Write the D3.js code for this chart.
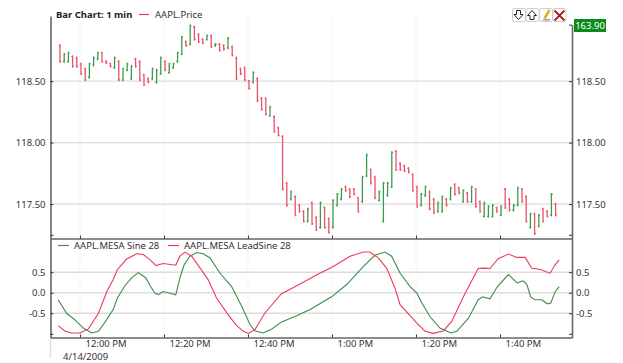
<!DOCTYPE html>
<html>
<head>
<meta charset="utf-8">
<script src="https://cdn.jsdelivr.net/npm/d3@7"></script>
<style>
    html, body { margin: 0; padding: 0; background: #fff; }
    svg { display: block; }
    text { font-family: "Noto Sans", sans-serif; font-size: 9.5px; fill: #333; }
    .axis path.domain { stroke: #666; stroke-width: 1.6; }
    .axis line { stroke: #333; stroke-width: 1; }
    .grid-h { stroke: #dcdcdc; stroke-width: 1.4; }
    .grid-v { stroke: #eee; stroke-width: 1; stroke-dasharray: 2 1; }
</style>
</head>
<body>
<div id="chart"></div>
<script>
// one bar per minute, first bar at 11:55
const firstBarMinute = -5;
const opens = [118.79,118.66,118.66,118.70,118.69,118.64,118.60,118.53,118.63,118.68,118.73,118.66,118.64,118.61,118.66,118.51,118.59,118.52,118.68,118.66,118.55,118.52,118.52,118.49,118.56,118.66,118.57,118.61,118.66,118.72,118.82,118.80,118.94,118.88,118.84,118.84,118.87,118.79,118.80,118.79,118.77,118.78,118.69,118.60,118.61,118.50,118.49,118.52,118.36,118.36,118.22,118.21,118.12,118.05,117.67,117.54,117.56,117.49,117.44,117.36,117.51,117.39,117.31,117.47,117.38,117.31,117.49,117.54,117.64,117.62,117.62,117.55,117.52,117.73,117.78,117.72,117.53,117.36,117.57,117.64,117.93,117.83,117.81,117.79,117.74,117.64,117.49,117.57,117.60,117.54,117.44,117.44,117.54,117.54,117.66,117.63,117.52,117.59,117.52,117.62,117.52,117.40,117.40,117.40,117.47,117.41,117.62,117.54,117.45,117.49,117.62,117.56,117.31,117.42,117.32,117.46,117.44,117.41,117.50];
const highs = [118.80,118.73,118.74,118.71,118.70,118.65,118.61,118.65,118.70,118.74,118.74,118.67,118.65,118.70,118.67,118.61,118.65,118.63,118.69,118.67,118.56,118.53,118.61,118.60,118.70,118.67,118.65,118.65,118.74,118.87,118.83,118.96,118.95,118.89,118.85,118.88,118.88,118.81,118.81,118.80,118.86,118.79,118.70,118.61,118.62,118.51,118.58,118.53,118.37,118.37,118.30,118.22,118.13,118.06,117.68,117.61,117.57,117.50,117.45,117.47,117.52,117.40,117.52,117.48,117.39,117.54,117.59,117.63,117.65,117.63,117.63,117.56,117.73,117.91,117.79,117.73,117.61,117.68,117.68,117.93,117.94,117.84,117.82,117.80,117.75,117.65,117.59,117.65,117.61,117.55,117.52,117.57,117.55,117.64,117.67,117.64,117.62,117.60,117.65,117.63,117.53,117.52,117.49,117.50,117.48,117.49,117.63,117.55,117.50,117.64,117.63,117.57,117.43,117.43,117.42,117.47,117.45,117.59,117.51];
const lows = [118.65,118.65,118.65,118.61,118.61,118.55,118.50,118.52,118.62,118.67,118.65,118.64,118.61,118.60,118.50,118.50,118.58,118.51,118.61,118.50,118.46,118.48,118.51,118.48,118.55,118.58,118.56,118.60,118.65,118.71,118.78,118.79,118.83,118.81,118.80,118.83,118.77,118.78,118.74,118.75,118.76,118.70,118.51,118.55,118.50,118.43,118.48,118.33,118.26,118.22,118.21,118.08,118.05,117.61,117.48,117.53,117.40,117.43,117.35,117.35,117.33,117.28,117.30,117.30,117.26,117.30,117.48,117.53,117.60,117.55,117.57,117.43,117.51,117.72,117.66,117.54,117.52,117.35,117.56,117.63,117.77,117.77,117.76,117.75,117.60,117.47,117.48,117.56,117.45,117.42,117.43,117.43,117.48,117.53,117.57,117.58,117.51,117.51,117.51,117.47,117.43,117.39,117.39,117.39,117.43,117.40,117.46,117.44,117.44,117.48,117.51,117.35,117.30,117.25,117.31,117.35,117.39,117.40,117.40];
const closes = [118.66,118.72,118.73,118.62,118.62,118.56,118.51,118.64,118.69,118.73,118.66,118.65,118.62,118.69,118.51,118.60,118.64,118.62,118.62,118.51,118.47,118.49,118.60,118.59,118.69,118.59,118.64,118.64,118.73,118.86,118.79,118.95,118.84,118.82,118.81,118.87,118.78,118.80,118.75,118.76,118.85,118.71,118.52,118.56,118.51,118.44,118.57,118.34,118.27,118.23,118.29,118.09,118.06,117.62,117.49,117.60,117.41,117.44,117.36,117.46,117.34,117.29,117.51,117.31,117.27,117.53,117.58,117.62,117.61,117.56,117.58,117.44,117.72,117.90,117.67,117.55,117.60,117.67,117.67,117.92,117.78,117.78,117.77,117.76,117.61,117.48,117.58,117.64,117.46,117.43,117.51,117.56,117.49,117.63,117.58,117.59,117.61,117.52,117.64,117.48,117.44,117.51,117.48,117.49,117.44,117.48,117.47,117.45,117.49,117.63,117.52,117.36,117.42,117.26,117.41,117.36,117.40,117.58,117.41];

// indicator lines, minutes after 12:00
const sineMinutes = [-5.2,-3.2,-1.2,0.8,2.8,4.4,6.0,7.9,8.9,10.7,12.3,13.9,15.7,16.8,17.9,18.8,19.8,21.0,22.8,23.8,24.8,26.2,27.8,29.4,31.0,33.3,36.1,38.5,40.5,41.7,43.6,45.6,48.0,51.6,54.8,59.9,63.5,67.5,70.2,72.6,74.2,76.2,78.6,80.2,81.4,83.3,85.7,88.3,89.7,92.5,94.8,95.9,97.6,99.4,102.0,104.1,105.5,106.4,107.3,108.3,109.9,111.3,112.1,113.1,114.1];
const sineValues = [-0.17,-0.50,-0.66,-0.86,-0.98,-0.94,-0.71,-0.41,-0.13,0.17,0.36,0.49,0.36,0.15,-0.02,-0.04,0.03,0.00,-0.05,0.36,0.68,0.89,0.98,0.95,0.84,0.48,0.15,-0.33,-0.78,-0.93,-0.98,-0.89,-0.71,-0.56,-0.41,-0.10,0.20,0.64,0.91,0.99,0.89,0.48,0.15,-0.01,-0.25,-0.58,-0.86,-0.98,-0.94,-0.62,-0.17,-0.10,-0.15,0.15,0.44,0.24,0.29,0.20,-0.11,-0.17,-0.17,-0.27,-0.25,0.02,0.15];
const leadMinutes = [-5.2,-3.6,-2.0,0,2.0,4.4,6.4,7.9,8.9,11.1,13.5,15.1,16.7,18.1,19.8,22.8,23.8,25.0,26.6,28.6,30.5,32.5,35.3,37.3,38.9,40.1,41.7,44.0,47.9,52.4,56.4,60.3,64.3,67.5,69.0,71.0,73.0,75.0,76.2,78.6,80.2,82.1,84.1,86.5,88.5,91.3,94.8,96.4,97.6,99.6,102.0,104.0,106.0,107.5,109.9,111.9,113.1,114.1];
const leadValues = [-0.80,-0.93,-0.98,-0.98,-0.88,-0.50,0.03,0.32,0.56,0.82,0.95,0.93,0.80,0.66,0.71,0.67,0.89,0.99,0.89,0.60,0.32,-0.13,-0.54,-0.80,-0.94,-0.99,-0.89,-0.50,-0.03,0.21,0.44,0.64,0.89,0.99,0.99,0.85,0.60,0.11,-0.29,-0.56,-0.74,-0.93,-0.99,-0.93,-0.70,-0.09,0.59,0.60,0.59,0.83,0.94,0.86,0.86,0.60,0.56,0.47,0.68,0.80];

const timeTicks = [0, 20, 40, 60, 80, 100];
const timeLabels = ["12:00 PM", "12:20 PM", "12:40 PM", "1:00 PM", "1:20 PM", "1:40 PM"];
const priceTicks = [117.25, 117.5, 118, 118.5];
const priceTickLabels = ["", "117.50", "118.00", "118.50"];
const sineTicks = [-1, -0.5, 0, 0.5];
const sineTickLabels = ["", "-0.5", "0.0", "0.5"];
const lastPriceLabel = "163.90";
const lastPriceMark = 118.96;

const upColor = "#3d9a4c";
const downColor = "#ea5068";
const lineGreen = "#3c8c4a";
const lineRed = "#ea3c58";

const width = 623, height = 363;
const left = 50.5, right = 572;
const mainTop = 16, mainBottom = 238.5, lowerBottom = 337.5;
const barShift = 1;

const svg = d3.select("#chart").append("svg").attr("width", width).attr("height", height);

const x = d3.scaleLinear().domain([-7.02, 117.14]).range([left, right]);
const priceY = d3.scaleLinear().domain([117.22, 119.03]).range([mainBottom, mainTop]);
const sineY = d3.scaleLinear().domain([-1.09, 1.32]).range([lowerBottom, mainBottom]);

// Grid
svg.append("g").selectAll("line").data(timeTicks).join("line")
    .attr("class", "grid-v")
    .attr("x1", d => x(d)).attr("x2", d => x(d))
    .attr("y1", mainTop).attr("y2", lowerBottom);
svg.append("g").selectAll("line").data(priceTicks.slice(1)).join("line")
    .attr("class", "grid-h")
    .attr("x1", left).attr("x2", right)
    .attr("y1", d => priceY(d)).attr("y2", d => priceY(d));
svg.append("g").selectAll("line").data(sineTicks.slice(1)).join("line")
    .attr("class", "grid-h")
    .attr("x1", left).attr("x2", right)
    .attr("y1", d => sineY(d)).attr("y2", d => sineY(d));
svg.append("line").attr("x1", left).attr("x2", left).attr("y1", lowerBottom).attr("y2", 358)
    .attr("stroke", "#ddd").attr("stroke-width", 1.4);

// Price bars
let bars = svg.append("g").selectAll("g").data(opens).join("g")
    .attr("stroke", (d, i) => closes[i] >= opens[i] ? upColor : downColor)
    .attr("stroke-width", 1.3);
let barX = i => x(firstBarMinute + i) + barShift;
bars.append("line")
    .attr("x1", (d, i) => barX(i)).attr("x2", (d, i) => barX(i))
    .attr("y1", (d, i) => priceY(highs[i])).attr("y2", (d, i) => priceY(lows[i]));
bars.append("line")
    .attr("x1", (d, i) => barX(i) - 1.2).attr("x2", (d, i) => barX(i))
    .attr("y1", (d, i) => priceY(opens[i])).attr("y2", (d, i) => priceY(opens[i]));
bars.append("line")
    .attr("x1", (d, i) => barX(i)).attr("x2", (d, i) => barX(i) + 1.2)
    .attr("y1", (d, i) => priceY(closes[i])).attr("y2", (d, i) => priceY(closes[i]));

// Indicator lines
let line = d3.line().x(d => x(d[0])).y(d => sineY(d[1]));
svg.append("path").datum(d3.zip(sineMinutes, sineValues))
    .attr("d", line).attr("fill", "none").attr("stroke", lineGreen).attr("stroke-width", 1.1);
svg.append("path").datum(d3.zip(leadMinutes, leadValues))
    .attr("d", line).attr("fill", "none").attr("stroke", lineRed).attr("stroke-width", 1.1);

// Axes
function priceFormat(d) { return priceTickLabels[priceTicks.indexOf(d)]; }
function sineFormat(d) { return sineTickLabels[sineTicks.indexOf(d)]; }
function timeFormat(d) { return timeLabels[timeTicks.indexOf(d)]; }

svg.append("g").attr("class", "axis").attr("transform", "translate(" + left + ",0)")
    .call(d3.axisLeft(priceY).tickValues(priceTicks).tickFormat(priceFormat).tickSizeInner(-3).tickSizeOuter(0).tickPadding(5));
svg.append("g").attr("class", "axis").attr("transform", "translate(" + left + ",0)")
    .call(d3.axisLeft(sineY).tickValues(sineTicks).tickFormat(sineFormat).tickSizeInner(-3).tickSizeOuter(0).tickPadding(5));

let rightPrice = d3.scaleLinear().domain([priceY.domain()[0], lastPriceMark]).range([mainBottom, priceY(lastPriceMark)]);
svg.append("g").attr("class", "axis").attr("transform", "translate(" + right + ",0)")
    .call(d3.axisRight(rightPrice).tickValues(priceTicks.concat([lastPriceMark])).tickFormat(d => d === lastPriceMark ? "" : priceFormat(d)).tickSizeInner(-3).tickSizeOuter(0).tickPadding(4));
svg.append("g").attr("class", "axis").attr("transform", "translate(" + right + ",0)")
    .call(d3.axisRight(sineY).tickValues(sineTicks).tickFormat(sineFormat).tickSizeInner(-3).tickSizeOuter(0).tickPadding(4));

// Time axis with ticks on both panel borders
let timeAxis = svg.append("g").attr("class", "axis").attr("transform", "translate(0," + lowerBottom + ")")
    .call(d3.axisBottom(x).tickValues(timeTicks).tickFormat(timeFormat).tickSizeInner(-3).tickSizeOuter(0).tickPadding(3));
timeAxis.selectAll("text").attr("text-anchor", "start").attr("dx", 5);
svg.append("g").attr("class", "axis").attr("transform", "translate(0," + mainBottom + ")")
    .call(d3.axisBottom(x).tickValues(timeTicks).tickFormat("").tickSizeInner(-3).tickSizeOuter(0));
svg.selectAll(".axis path.domain").attr("stroke", "#555");

svg.append("text").attr("x", 63).attr("y", 359.5).text("4/14/2009");

// Titles and legends
svg.append("text").attr("x", 56).attr("y", 18).attr("font-weight", "bold").style("fill", "#222").text("Bar Chart: 1 min");
svg.append("line").attr("x1", 139).attr("x2", 149).attr("y1", 14.5).attr("y2", 14.5).attr("stroke", lineRed).attr("stroke-width", 1.2);
svg.append("text").attr("x", 155).attr("y", 18).text("AAPL.Price");
svg.append("line").attr("x1", 58).attr("x2", 69).attr("y1", 245.5).attr("y2", 245.5).attr("stroke", lineGreen).attr("stroke-width", 1.2);
svg.append("text").attr("x", 74).attr("y", 249).text("AAPL.MESA Sine 28");
svg.append("line").attr("x1", 168).attr("x2", 179).attr("y1", 245.5).attr("y2", 245.5).attr("stroke", lineRed).attr("stroke-width", 1.2);
svg.append("text").attr("x", 184).attr("y", 249).text("AAPL.MESA LeadSine 28");

// Last price box
svg.append("rect").attr("x", 574).attr("y", 19).attr("width", 32).attr("height", 13).attr("fill", "#0b8a1a");
svg.append("text").attr("x", 590).attr("y", 29).attr("text-anchor", "middle").style("fill", "#fff").text(lastPriceLabel);

// Toolbar buttons
let buttons = svg.append("g").selectAll("rect").data([512, 525.5, 539, 552.5]).join("rect")
    .attr("x", d => d + 0.5).attr("y", 8.5).attr("width", 13).attr("height", 13).attr("rx", 2)
    .attr("fill", "#fff").attr("stroke", "#ccc");
svg.append("path").attr("d", "M516.5 10.5h4v4h2.5l-4.5 5-4.5-5h2.5z").attr("fill", "#fff").attr("stroke", "#222");
svg.append("path").attr("d", "M530 19.5v-4h-2.5l4.5-5 4.5 5h-2.5v4z").attr("fill", "#fff").attr("stroke", "#222");
svg.append("path").attr("d", "M549.5 10l-5 8.5").attr("stroke", "#d9b21e").attr("stroke-width", 2.6).attr("fill", "none");
svg.append("path").attr("d", "M543 19.8h7").attr("stroke", "#5577aa").attr("stroke-width", 1).attr("fill", "none");
svg.append("path").attr("d", "M554.5 10.5l10 10m0-10l-10 10").attr("stroke", "#a8201e").attr("stroke-width", 1.8).attr("fill", "none");
</script>
</body>
</html>
